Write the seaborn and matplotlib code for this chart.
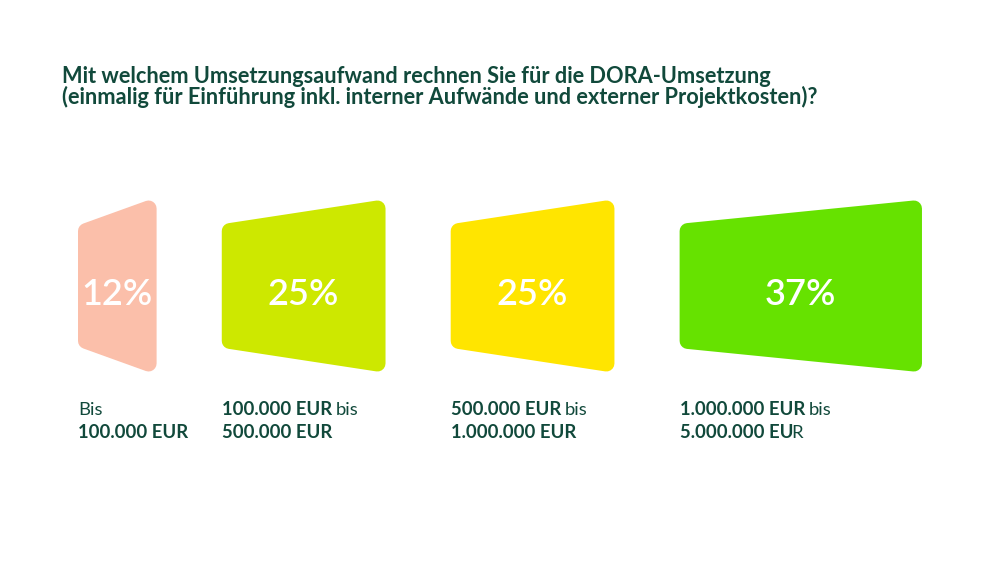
import numpy as np
import matplotlib
matplotlib.use("Agg")
import matplotlib.pyplot as plt
from matplotlib.patches import Polygon
import seaborn as sns

# data
shares = [12, 25, 25, 37]
share_labels = ["12%", "25%", "25%", "37%"]
range_bold_1 = ["", "100.000 EUR", "500.000 EUR", "1.000.000 EUR"]
range_reg_1 = ["Bis", "bis", "bis", "bis"]
range_bold_2 = ["100.000 EUR", "500.000 EUR", "1.000.000 EUR", "5.000.000 EU"]
range_reg_2 = ["", "", "", "R"]
colors = ["#fbbfaa", "#cde800", "#ffe500", "#66e200"]
title = ("Mit welchem Umsetzungsaufwand rechnen Sie für die DORA-Umsetzung\n"
         "(einmalig für Einführung inkl. interner Aufwände und externer Projektkosten)?")

sns.set_theme(style="white")
plt.rcParams['font.family'] = ['Lato', 'DejaVu Sans']
dark = "#11493b"

W, H = 1000, 563
fig = plt.figure(figsize=(W / 100, H / 100), dpi=100)
ax = fig.add_axes([0, 0, 1, 1])

# pixel mapping: x px = x0 + sx * value, shape right edge spans +-0.5
x0, sx = 78, 6.55
yc, sy = 286, 171
gap = 9.95
ax.set_xlim(-x0 / sx, (W - x0) / sx)
ax.set_ylim((yc - H) / sy, yc / sy)
ax.axis("off")

left_half = 0.368   # left edge shorter (perspective)
right_half = 0.5
r = 8  # corner radius, px
ix, iy = r / sx, r / sy
lw = 2 * r * 72 / 100

starts = np.concatenate([[0], np.cumsum(np.array(shares[:-1]) + gap)])
for i, (s, v) in enumerate(zip(starts, shares)):
    e = s + v
    pts = [(s + ix, -left_half + iy), (e - ix, -right_half + iy),
           (e - ix, right_half - iy), (s + ix, left_half - iy)]
    ax.add_patch(Polygon(pts, closed=True, facecolor=colors[i], edgecolor=colors[i],
                         lw=lw, joinstyle="round"))
    ax.text(s + v / 2, -0.05, share_labels[i], color="white", fontsize=26,
            fontweight=600, ha="center", va="center")

    # range labels beneath
    y1 = (yc - 415) / sy
    y2 = (yc - 438) / sy
    for yy, b, rg in [(y1, range_bold_1[i], range_reg_1[i]), (y2, range_bold_2[i], range_reg_2[i])]:
        if b:
            t = ax.text(s, yy, b, color=dark, fontsize=13.3, fontweight="bold",
                        ha="left", va="baseline")
            if rg:
                ax.annotate(rg, xy=(1, 0), xycoords=t, xytext=(3 if len(rg) > 1 else -1.2, 0),
                            textcoords="offset points", color=dark, fontsize=13.3,
                            ha="left", va="bottom")
        else:
            ax.text(s, yy, rg, color=dark, fontsize=13.3, ha="left", va="baseline")

fig.text(62 / W, 1 - 83 / H, title.split("\n")[0], color=dark, fontsize=15.7,
         fontweight="bold", ha="left", va="baseline")
fig.text(62 / W, 1 - 104 / H, title.split("\n")[1], color=dark, fontsize=15.7,
         fontweight="bold", ha="left", va="baseline")

fig.savefig("out.png", dpi=100, facecolor="white")
